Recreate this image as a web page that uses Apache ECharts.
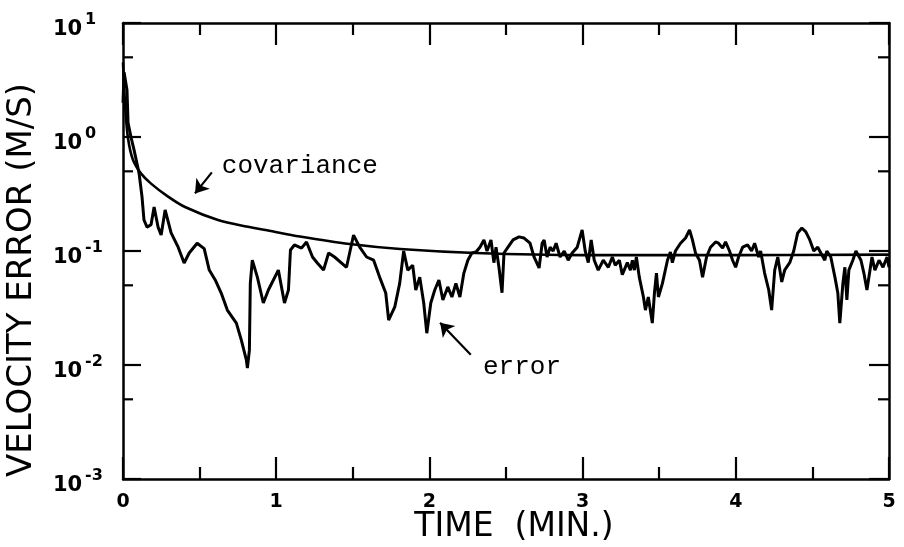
<!DOCTYPE html>
<html><head><meta charset="utf-8">
<script src="https://cdn.jsdelivr.net/npm/echarts@6/dist/echarts.min.js"></script>
<style>html,body{margin:0;padding:0;background:#fff}#c{width:904px;height:547px}</style>
</head><body><div id="c"></div>
<script>
// Time (min.) and velocity error (m/s)
const errTime = [0.0,0.007,0.026,0.033,0.052,0.072,0.105,0.124,0.137,0.157,0.183,0.203,0.229,0.249,0.275,0.314,0.36,0.399,0.432,0.484,0.53,0.563,0.602,0.641,0.681,0.74,0.772,0.805,0.812,0.825,0.831,0.844,0.877,0.916,0.949,1.014,1.054,1.08,1.093,1.119,1.165,1.198,1.237,1.27,1.309,1.342,1.381,1.459,1.505,1.545,1.59,1.636,1.675,1.715,1.734,1.774,1.806,1.832,1.859,1.891,1.911,1.937,1.963,1.983,2.009,2.035,2.062,2.088,2.12,2.147,2.173,2.199,2.225,2.251,2.277,2.304,2.33,2.356,2.376,2.402,2.421,2.435,2.454,2.474,2.487,2.513,2.546,2.585,2.618,2.657,2.683,2.716,2.736,2.749,2.768,2.788,2.808,2.827,2.853,2.88,2.906,2.932,2.965,2.997,3.017,3.037,3.056,3.076,3.102,3.135,3.168,3.194,3.213,3.24,3.259,3.292,3.312,3.325,3.338,3.351,3.37,3.397,3.41,3.429,3.455,3.469,3.482,3.495,3.521,3.554,3.573,3.586,3.606,3.639,3.672,3.698,3.717,3.737,3.763,3.783,3.809,3.835,3.868,3.887,3.914,3.933,3.959,3.979,3.999,4.018,4.045,4.077,4.103,4.123,4.149,4.162,4.188,4.215,4.234,4.254,4.274,4.3,4.319,4.352,4.378,4.404,4.431,4.457,4.483,4.509,4.535,4.555,4.581,4.594,4.62,4.647,4.666,4.679,4.699,4.712,4.725,4.738,4.764,4.784,4.817,4.836,4.856,4.876,4.889,4.908,4.935,4.961,4.987,5.0];
const errValue = [2.0,3.7,2.58,1.33,1.0,0.77,0.48,0.30,0.187,0.162,0.17,0.243,0.162,0.138,0.229,0.144,0.108,0.0785,0.096,0.117,0.105,0.068,0.0557,0.0428,0.0303,0.0233,0.0166,0.0111,0.0094,0.0135,0.052,0.083,0.059,0.035,0.0455,0.068,0.035,0.0455,0.102,0.113,0.106,0.12,0.0886,0.078,0.068,0.096,0.0886,0.072,0.138,0.108,0.0886,0.083,0.059,0.0428,0.0248,0.0323,0.052,0.10,0.068,0.075,0.0455,0.059,0.035,0.019,0.035,0.0455,0.0557,0.0372,0.0484,0.0395,0.052,0.0395,0.064,0.083,0.096,0.098,0.108,0.125,0.10,0.125,0.079,0.108,0.072,0.043,0.096,0.108,0.125,0.133,0.13,0.117,0.0886,0.071,0.117,0.125,0.0886,0.108,0.10,0.117,0.0886,0.10,0.083,0.096,0.108,0.153,0.10,0.079,0.125,0.083,0.068,0.083,0.072,0.0886,0.075,0.083,0.062,0.079,0.068,0.083,0.068,0.0886,0.059,0.0395,0.0303,0.0395,0.0233,0.0428,0.064,0.0395,0.052,0.083,0.098,0.079,0.10,0.117,0.13,0.153,0.125,0.096,0.083,0.059,0.0886,0.108,0.12,0.117,0.106,0.12,0.10,0.083,0.072,0.0886,0.108,0.113,0.10,0.117,0.0886,0.10,0.064,0.0455,0.0303,0.068,0.0886,0.0535,0.068,0.079,0.10,0.144,0.159,0.147,0.125,0.10,0.108,0.096,0.083,0.10,0.0886,0.059,0.0428,0.0233,0.052,0.072,0.0372,0.068,0.083,0.10,0.083,0.064,0.0455,0.068,0.0886,0.068,0.083,0.072,0.0886,0.072];
const covTime = [0.0,0.015,0.033,0.065,0.117,0.183,0.294,0.405,0.62,0.816,0.94,1.155,1.48,1.81,2.3,3.0,4.0,5.0];
const covValue = [4.5,1.8,0.97,0.63,0.48,0.39,0.30,0.243,0.187,0.163,0.152,0.134,0.115,0.104,0.096,0.092,0.092,0.093];
const yTickValues = [10, 1, 0.1, 0.01, 0.001];
const yTickExponents = ['1', '0', '-1', '-2', '-3'];
const yMinorTicks = [5, 0.5, 0.05, 0.005];
const xName = 'TIME  (MIN.)';
const yName = 'VELOCITY ERROR (M/S)';
const covLabel = 'covariance';
const errLabel = 'error';

const chart = echarts.init(document.getElementById('c'));
const black = '#000';
function xAxisCfg(pos, labels) {
  return {
    type: 'value', position: pos, min: 0, max: 5, interval: 1,
    axisLine: { show: true, onZero: false, lineStyle: { color: black, width: 2.5 } },
    axisTick: { show: true, inside: true, length: 22, lineStyle: { color: black, width: 2.2 } },
    minorTick: { show: true, splitNumber: 2, length: 12, lineStyle: { color: black, width: 2.2 } },
    splitLine: { show: false }, minorSplitLine: { show: false },
    axisLabel: { show: labels, color: black, fontFamily: 'DejaVu Sans', fontWeight: 'bold', fontSize: 19, margin: 14 },
    name: labels ? xName : '', nameLocation: 'middle', nameGap: 32, nameMoveOverlap: false,
    nameTextStyle: { color: black, fontFamily: 'DejaVu Sans', fontSize: 33, padding: [0, 0, 0, 16] }
  };
}
function yAxisCfg(pos, named, len) {
  return {
    type: 'log', logBase: 10, position: pos, min: 0.001, max: 10, splitNumber: 4,
    axisLine: { show: true, onZero: false, lineStyle: { color: black, width: 2.5 } },
    axisTick: { show: true, inside: true, length: len, lineStyle: { color: black, width: 2.2 } },
    splitLine: { show: false },
    axisLabel: { show: false },
    name: named ? yName : '', nameLocation: 'middle', nameGap: 84, nameRotate: 90, nameMoveOverlap: false,
    nameTextStyle: { color: black, fontFamily: 'DejaVu Sans', fontSize: 34, padding: [0, 58, 0, 0] }
  };
}
const tickLabelBase = { fontFamily: 'DejaVu Sans', fontWeight: 'bold', color: '#000', opacity: 1, position: 'right', distance: 0, align: 'left', verticalAlign: 'middle' };
const solidItem = { color: black, opacity: 1 };
chart.setOption({
  animation: false,
  backgroundColor: '#fff',
  grid: { left: 123, right: 15, top: 23, bottom: 68, outerBoundsMode: 'none', containLabel: false },
  xAxis: [xAxisCfg('bottom', true), xAxisCfg('top', false)],
  yAxis: [yAxisCfg('left', true, 18), yAxisCfg('right', false, 20)],
  series: [
    {
      type: 'line', name: 'covariance', xAxisIndex: 0, yAxisIndex: 0,
      data: covTime.map((t, i) => [t, covValue[i]]),
      smooth: 0.35, showSymbol: false, lineStyle: { color: black, width: 2.6 },
      markLine: {
        silent: true, symbol: ['none', 'arrow'], symbolSize: 13,
        lineStyle: { color: black, width: 2.2, type: 'solid' }, label: { show: false },
        data: [[{ coord: [0.58, 0.49] }, { coord: [0.47, 0.32] }]]
      },
      markPoint: {
        silent: true, symbol: 'circle', symbolSize: 0,
        label: { show: true, position: 'right', distance: 0, formatter: covLabel, color: black, fontFamily: 'Liberation Mono', fontSize: 26 },
        data: [{ coord: [0.645, 0.56] }]
      }
    },
    {
      type: 'line', name: 'error', xAxisIndex: 0, yAxisIndex: 0,
      data: errTime.map((t, i) => [t, errValue[i]]),
      showSymbol: false, lineStyle: { color: black, width: 3 },
      markLine: {
        silent: true, symbol: ['none', 'arrow'], symbolSize: 13,
        lineStyle: { color: black, width: 2.2, type: 'solid' }, label: { show: false },
        data: [[{ coord: [2.27, 0.0123] }, { coord: [2.07, 0.0235] }]]
      },
      markPoint: {
        silent: true, symbol: 'circle', symbolSize: 0,
        label: { show: true, position: 'right', distance: 0, formatter: errLabel, color: black, fontFamily: 'Liberation Mono', fontSize: 26 },
        data: [{ coord: [2.35, 0.0096] }]
      }
    },
    {
      type: 'scatter', xAxisIndex: 0, yAxisIndex: 0, clip: false, silent: true,
      data: yMinorTicks.map(v => [0, v]), symbol: 'rect', symbolSize: [10, 2.2], symbolOffset: [5, 0],
      itemStyle: solidItem
    },
    {
      type: 'scatter', xAxisIndex: 0, yAxisIndex: 0, clip: false, silent: true,
      data: yMinorTicks.map(v => [5, v]), symbol: 'rect', symbolSize: [11, 2.2], symbolOffset: [-5.5, 0],
      itemStyle: solidItem
    },
    {
      type: 'scatter', xAxisIndex: 0, yAxisIndex: 0, clip: false, silent: true, symbolSize: 0,
      itemStyle: solidItem,
      data: yTickValues.map(v => [0, v]),
      label: Object.assign({ show: true, fontSize: 21, offset: [-70, 7], formatter: '10' }, tickLabelBase)
    },
    {
      type: 'scatter', xAxisIndex: 0, yAxisIndex: 0, clip: false, silent: true, symbolSize: 0,
      itemStyle: solidItem,
      data: yTickValues.map((v, i) => ({ value: [0, v], name: yTickExponents[i] })),
      label: Object.assign({ show: true, fontSize: 16, offset: [-38, -3], formatter: p => p.name }, tickLabelBase)
    }
  ]
});
</script>
</body></html>
